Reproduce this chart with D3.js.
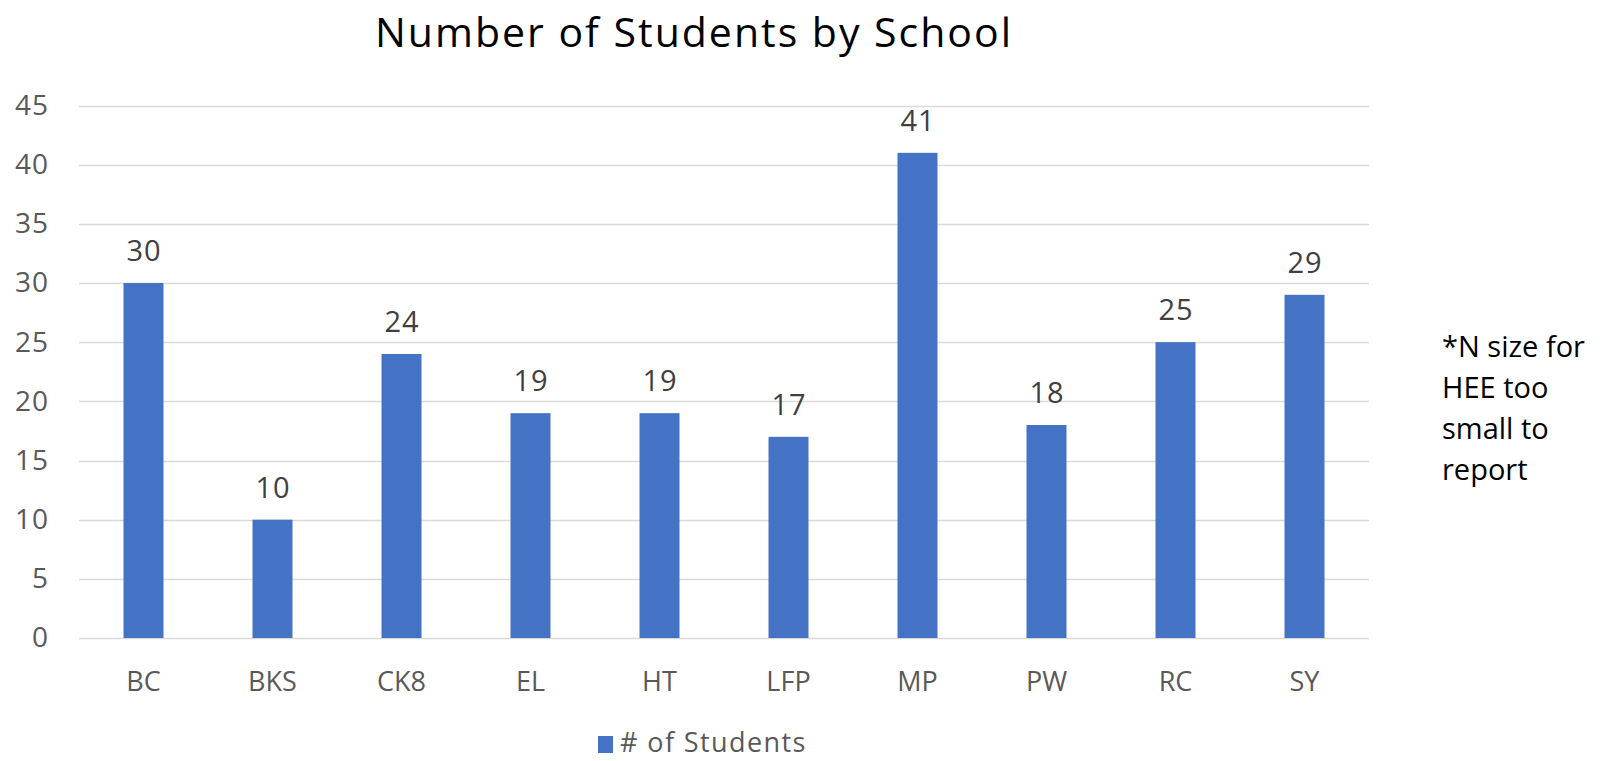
<!DOCTYPE html>
<html><head><meta charset="utf-8">
<script src="https://cdn.jsdelivr.net/npm/d3@7"></script>
<style>body{margin:0;background:#fff;} svg{display:block;}</style>
</head><body>
<script>
const categories = ["BC","BKS","CK8","EL","HT","LFP","MP","PW","RC","SY"];
const values = [30,10,24,19,19,17,41,18,25,29];
const yTicks = [0,5,10,15,20,25,30,35,40,45];
const title = "Number of Students by School";
const seriesName = "# of Students";
const noteLines = ["*N size for","HEE too","small to","report"];

(function(){
const W = 1608, H = 761;
const font = "'Open Sans', sans-serif";
const svg = d3.select("body").append("svg").attr("width", W).attr("height", H);
svg.append("rect").attr("width", W).attr("height", H).attr("fill", "#fff");

const pl = 79, pr = 1369, pt = 105.5, pb = 638;
const x = d3.scaleBand().domain(categories).range([pl, pr]).paddingInner(0.69).paddingOuter(0.345);
const y = d3.scaleLinear().domain([0,45]).range([pb, pt]);

svg.append("g").selectAll("line").data(yTicks).join("line")
  .attr("x1", pl).attr("x2", pr)
  .attr("y1", d => Math.round(y(d)) + 0.5).attr("y2", d => Math.round(y(d)) + 0.5)
  .attr("stroke", "#d9d9d9").attr("stroke-width", 1.5);

const yAxis = d3.axisLeft(y).tickValues(yTicks).tickSize(0).tickPadding(0);
const gy = svg.append("g").attr("transform", `translate(49,0)`).call(yAxis);
gy.select(".domain").remove();
gy.selectAll("text").attr("font-family", font).attr("font-size", 28)
  .attr("letter-spacing", 1).attr("fill", "#595959");

const xAxis = d3.axisBottom(x).tickSize(0).tickPadding(0);
const gx = svg.append("g").attr("transform", `translate(0,${pb + 34})`).call(xAxis);
gx.select(".domain").remove();
gx.selectAll("text").attr("font-family", font).attr("font-size", 27).attr("fill", "#595959");

svg.append("g").selectAll("rect").data(values).join("rect")
  .attr("x", (d,i) => x(categories[i]))
  .attr("width", x.bandwidth())
  .attr("y", d => y(d))
  .attr("height", d => y(0) - y(d))
  .attr("fill", "#4472c4");

svg.append("g").selectAll("text").data(values).join("text")
  .attr("x", (d,i) => x(categories[i]) + x.bandwidth()/2 + 0.5)
  .attr("y", d => y(d) - 22)
  .attr("text-anchor", "middle")
  .attr("font-family", font).attr("font-size", 29).attr("letter-spacing", 1).attr("fill", "#404040")
  .text(d => d);

svg.append("text").attr("x", 694).attr("y", 47).attr("text-anchor", "middle")
  .attr("font-family", font).attr("font-size", 41).attr("letter-spacing", 2).attr("fill", "#000").text(title);

svg.append("rect").attr("x", 598).attr("y", 736).attr("width", 15).attr("height", 17).attr("fill", "#4472c4");
svg.append("text").attr("x", 620).attr("y", 752).attr("font-family", font).attr("font-size", 27)
  .attr("letter-spacing", 1.4).attr("fill", "#595959").text(seriesName);

svg.append("g").selectAll("text").data(noteLines).join("text")
  .attr("x", 1442).attr("y", (d,i) => 357 + i*41)
  .attr("font-family", font).attr("font-size", 29).attr("fill", "#000").text(d => d);
})();
</script>
</body></html>
